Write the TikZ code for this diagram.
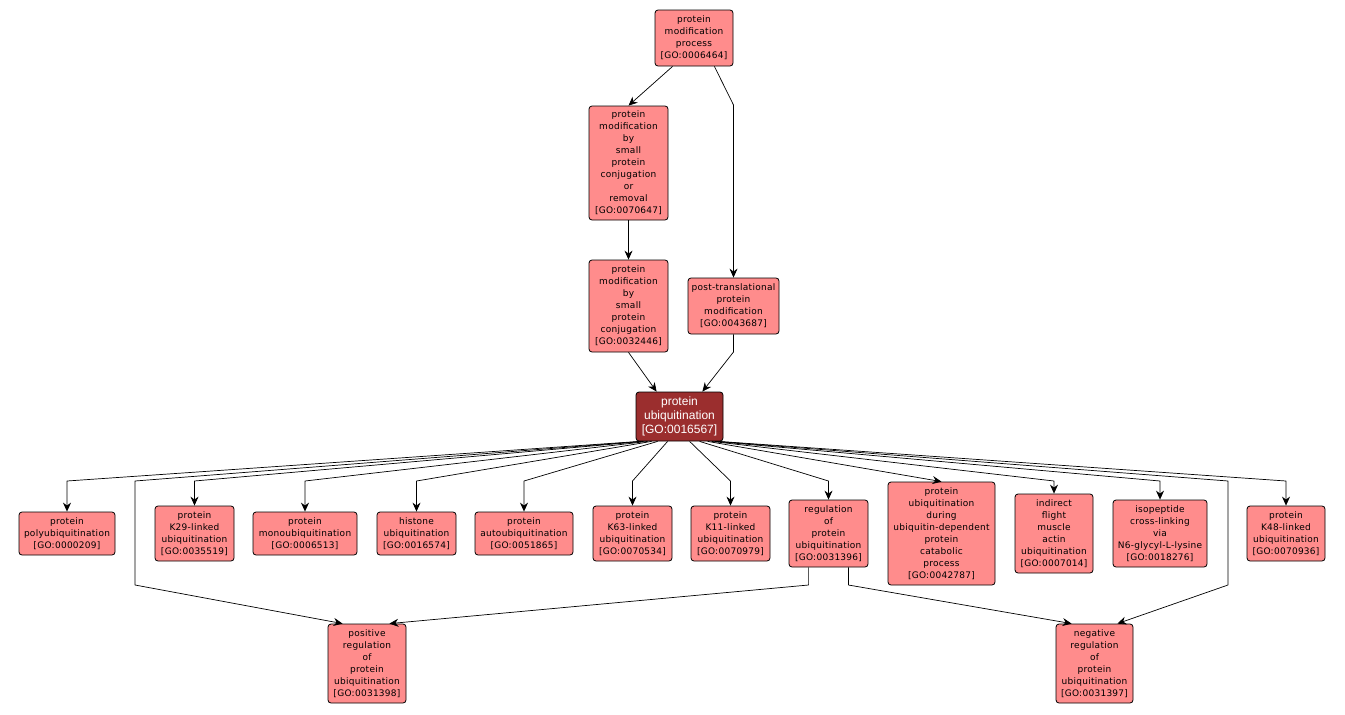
\documentclass[tikz,border=0pt]{standalone}
\usepackage{fontspec}
\usetikzlibrary{arrows.meta}
\newfontfamily\gofont[LetterSpace=3]{DejaVu Sans}
\newfontfamily\gobigfont{Liberation Sans}
\definecolor{termfill}{RGB}{255,140,140}
\definecolor{focusfill}{RGB}{155,46,46}
\tikzset{
  term/.style={draw, line width=0.8pt, rounded corners=3, fill=termfill, align=center,
    inner sep=0pt, font=\gofont\fontsize{9}{12}\selectfont},
  focus/.style={term, fill=focusfill, text=white, font=\gobigfont\fontsize{12}{14}\selectfont},
  isa/.style={->, line width=0.7pt}
}
\begin{document}
\begin{tikzpicture}[x=1pt, y=-1pt, >={Stealth[length=9pt,width=8pt,inset=3pt]}, line join=round]
	\useasboundingbox (0,0) rectangle (1345,715);
	% upper part
	\node[term, minimum width=78, minimum height=56] (pmp) at (694,38) {protein\\modification\\process\\{[GO:0006464]}};
	\node[term, minimum width=79, minimum height=114] (pmsr) at (628.5,163) {protein\\modification\\by\\small\\protein\\conjugation\\or\\removal\\{[GO:0070647]}};
	\node[term, minimum width=79, minimum height=92] (pmsc) at (628.5,306) {protein\\modification\\by\\small\\protein\\conjugation\\{[GO:0032446]}};
	\node[term, minimum width=91, minimum height=56] (ptm) at (733.5,306) {post-translational\\protein\\modification\\{[GO:0043687]}};
	\node[focus, minimum width=87, minimum height=49] (pu) at (679.5,416.5) {protein\\ubiquitination\\{[GO:0016567]}};
	% row of children
	\node[term, minimum width=96, minimum height=43] (poly) at (67,533.5) {protein\\polyubiquitination\\{[GO:0000209]}};
	\node[term, minimum width=79, minimum height=55] (k29) at (194.5,533.5) {protein\\K29-linked\\ubiquitination\\{[GO:0035519]}};
	\node[term, minimum width=104, minimum height=43] (mono) at (305,533.5) {protein\\monoubiquitination\\{[GO:0006513]}};
	\node[term, minimum width=79, minimum height=43] (histone) at (416.5,533.5) {histone\\ubiquitination\\{[GO:0016574]}};
	\node[term, minimum width=98, minimum height=43] (auto) at (524,533.5) {protein\\autoubiquitination\\{[GO:0051865]}};
	\node[term, minimum width=79, minimum height=55] (k63) at (632.5,533.5) {protein\\K63-linked\\ubiquitination\\{[GO:0070534]}};
	\node[term, minimum width=79, minimum height=55] (k11) at (730.5,533.5) {protein\\K11-linked\\ubiquitination\\{[GO:0070979]}};
	\node[term, minimum width=79, minimum height=67] (reg) at (828.5,533.5) {regulation\\of\\protein\\ubiquitination\\{[GO:0031396]}};
	\node[term, minimum width=107, minimum height=103] (catab) at (941.5,533.5) {protein\\ubiquitination\\during\\ubiquitin-dependent\\protein\\catabolic\\process\\{[GO:0042787]}};
	\node[term, minimum width=78, minimum height=79] (flight) at (1054,533.5) {indirect\\flight\\muscle\\actin\\ubiquitination\\{[GO:0007014]}};
	\node[term, minimum width=94, minimum height=67] (iso) at (1160,533.5) {isopeptide\\cross-linking\\via\\N6-glycyl-L-lysine\\{[GO:0018276]}};
	\node[term, minimum width=78, minimum height=55] (k48) at (1286,533.5) {protein\\K48-linked\\ubiquitination\\{[GO:0070936]}};
	% bottom
	\node[term, minimum width=78, minimum height=79] (pos) at (367,663.5) {positive\\regulation\\of\\protein\\ubiquitination\\{[GO:0031398]}};
	\node[term, minimum width=77, minimum height=79] (neg) at (1094.5,663.5) {negative\\regulation\\of\\protein\\ubiquitination\\{[GO:0031397]}};
	% routing points
	\coordinate (bend) at (0,481);
	\coordinate (laneL) at (135,585);
	\coordinate (laneR) at (1228,585);
	\coordinate (ptmtop) at (0,105);
	\coordinate (ptmlow) at (0,352);
	\coordinate (regL) at ([xshift=20]reg.south west);
	\coordinate (regR) at ([xshift=-20]reg.south east);
	% edges above
	\draw[isa] ([xshift=18]pmp.south west) -- (pmsr.north);
	\draw[isa] ([xshift=-19]pmp.south east) -- (ptm.north |- ptmtop) -- (ptm.north);
	\draw[isa] (pmsr) -- (pmsc);
	\draw[isa] (pmsc.south) -- ([xshift=21]pu.north west);
	\draw[isa] (ptm.south) -- (ptm.south |- ptmlow) -- ([xshift=-21]pu.north east);
	% edges to the row
	\draw[isa] ([xshift=4]pu.south west) -- (poly |- bend) -- (poly);
	\draw[isa] ([xshift=6]pu.south west) -- (laneL |- bend) -- (laneL) -- ([xshift=15]pos.north west);
	\draw[isa] ([xshift=8]pu.south west) -- (k29 |- bend) -- (k29);
	\draw[isa] ([xshift=12]pu.south west) -- (mono |- bend) -- (mono);
	\draw[isa] ([xshift=16]pu.south west) -- (histone |- bend) -- (histone);
	\draw[isa] ([xshift=22]pu.south west) -- (auto |- bend) -- (auto);
	\draw[isa] ([xshift=32]pu.south west) -- (k63 |- bend) -- (k63);
	\draw[isa] ([xshift=54]pu.south west) -- (k11 |- bend) -- (k11);
	\draw[isa] ([xshift=64]pu.south west) -- (reg |- bend) -- (reg);
	\draw[isa] ([xshift=72]pu.south west) -- (catab.north);
	\draw[isa] ([xshift=76]pu.south west) -- (flight |- bend) -- (flight);
	\draw[isa] ([xshift=79]pu.south west) -- (iso |- bend) -- (iso);
	\draw[isa] ([xshift=81]pu.south west) -- (laneR |- bend) -- (laneR) -- ([xshift=-16]neg.north east);
	\draw[isa] ([xshift=83]pu.south west) -- (k48 |- bend) -- (k48);
	% regulation children
	\draw[isa] (regL) -- (regL |- laneL) -- ([xshift=-17]pos.north east);
	\draw[isa] (regR) -- (regR |- laneR) -- ([xshift=16]neg.north west);
\end{tikzpicture}
\end{document}
